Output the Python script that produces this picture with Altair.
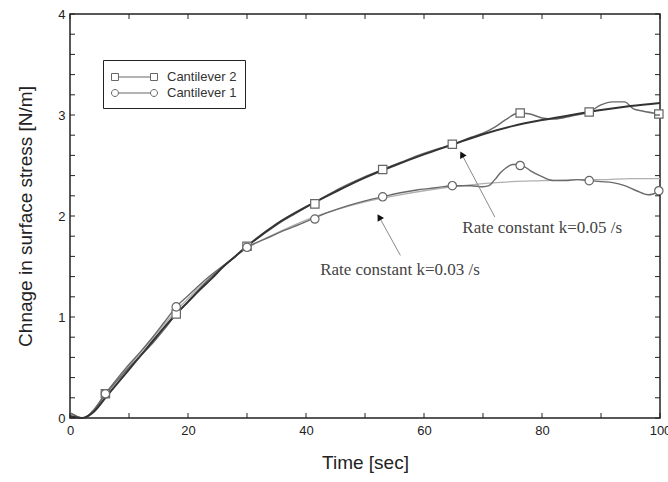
import altair as alt
import pandas as pd

# ---------------- data ----------------
series_names = ["Cantilever 2", "Cantilever 1"]

# measured curve, Cantilever 2 (squares)
t_c2 = [0, 1, 2, 3, 4, 6, 8, 10, 12, 14, 16, 18, 20, 22, 24, 26, 28, 30, 33, 36, 39, 41, 44, 47, 50,
        53, 56, 59, 62, 65, 68, 70, 72, 74, 76, 78, 80, 82, 85, 88, 90, 92, 94, 95.5, 97, 100]
v_c2 = [0.05, 0.02, 0.0, 0.02, 0.07, 0.24, 0.37, 0.50, 0.62, 0.74, 0.88, 1.03, 1.15, 1.28, 1.40, 1.50,
        1.60, 1.70, 1.83, 1.95, 2.05, 2.12, 2.22, 2.31, 2.39, 2.46, 2.53, 2.60, 2.66, 2.71, 2.78, 2.82,
        2.88, 2.96, 3.02, 3.01, 2.97, 2.96, 2.99, 3.03, 3.10, 3.13, 3.13, 3.06, 3.04, 3.01]

# measured curve, Cantilever 1 (circles)
t_c1 = [0, 1, 2, 3, 4, 6, 8, 10, 12, 14, 16, 18, 20, 22, 24, 26, 28, 30, 33, 36, 39, 41, 44, 47, 50,
        53, 56, 59, 62, 65, 68, 70, 71, 72, 73, 74, 75, 76, 77, 78, 80, 82, 84, 86, 88, 90, 92, 94,
        96, 98, 100]
v_c1 = [0.05, 0.02, 0.0, 0.02, 0.08, 0.24, 0.39, 0.53, 0.66, 0.80, 0.95, 1.10, 1.21, 1.32, 1.42, 1.51,
        1.60, 1.69, 1.77, 1.85, 1.92, 1.97, 2.04, 2.10, 2.15, 2.19, 2.23, 2.26, 2.28, 2.30, 2.30, 2.29,
        2.30, 2.36, 2.43, 2.48, 2.51, 2.51, 2.49, 2.45, 2.39, 2.35, 2.35, 2.36, 2.35, 2.34, 2.33, 2.30,
        2.25, 2.21, 2.24]

# marker positions
t_mark = [6, 18, 30, 41.5, 53, 64.8, 76.3, 88, 99.8]
m_c2 = [0.24, 1.03, 1.70, 2.12, 2.46, 2.71, 3.02, 3.03, 3.01]
m_c1 = [0.24, 1.10, 1.69, 1.97, 2.19, 2.30, 2.50, 2.35, 2.25]

# fitted curves
t_fit = [0, 2, 4, 6, 8, 10, 12, 14, 16, 18, 20, 22, 24, 26, 28, 30, 35, 40, 45, 50, 55, 60, 65, 70,
         75, 80, 85, 90, 95, 100]
fit_k05 = [0.02, 0.0, 0.06, 0.20, 0.34, 0.48, 0.62, 0.76, 0.90, 1.03, 1.15, 1.27, 1.38, 1.50, 1.60,
           1.70, 1.92, 2.09, 2.24, 2.38, 2.50, 2.61, 2.71, 2.81, 2.89, 2.95, 3.00, 3.05, 3.09, 3.12]
fit_k03 = [0.02, 0.0, 0.07, 0.22, 0.37, 0.51, 0.65, 0.79, 0.93, 1.06, 1.18, 1.30, 1.40, 1.50, 1.60,
           1.68, 1.83, 1.96, 2.06, 2.14, 2.20, 2.25, 2.29, 2.32, 2.34, 2.35, 2.36, 2.36, 2.37, 2.37]

# annotations
ann_text = ["Rate constant k=0.05 /s", "Rate constant k=0.03 /s"]
ann_tx = [66.5, 42.4]
ann_ty = [1.88, 1.47]
arrow_head_t = [66.5, 52.5]
arrow_head_v = [2.60, 1.98]
arrow_tail_t = [72.0, 56.0]
arrow_tail_v = [1.99, 1.61]

# axis ticks
x_label_values = [0, 20, 40, 60, 80, 100]
y_label_values = [0, 1, 2, 3, 4]
x_tick_values = [0, 10, 20, 30, 40, 50, 60, 70, 80, 90, 100]
y_tick_values = [0, 0.2, 0.4, 0.6, 0.8, 1.0, 1.2, 1.4, 1.6, 1.8, 2.0, 2.2, 2.4, 2.6, 2.8, 3.0,
                 3.2, 3.4, 3.6, 3.8, 4.0]

# ---------------- tables ----------------
df_c2 = pd.DataFrame({"t": t_c2, "v": v_c2})
df_c1 = pd.DataFrame({"t": t_c1, "v": v_c1})
df_m2 = pd.DataFrame({"t": t_mark, "v": m_c2})
df_m1 = pd.DataFrame({"t": t_mark, "v": m_c1})
df_f05 = pd.DataFrame({"t": t_fit, "v": fit_k05})
df_f03 = pd.DataFrame({"t": t_fit, "v": fit_k03})
df_ann = pd.DataFrame({"t": ann_tx, "v": ann_ty, "label": ann_text})
df_arr = pd.DataFrame({"t": arrow_head_t, "v": arrow_head_v, "t2": arrow_tail_t, "v2": arrow_tail_v})
df_xt = pd.DataFrame({"t": x_tick_values})
df_yt = pd.DataFrame({"v": y_tick_values})
df_leg = pd.DataFrame({"series": series_names})

W, H = 590, 404
FONT = "Liberation Sans"

xscale = alt.Scale(domain=[0, 100], nice=False, zero=False)
yscale = alt.Scale(domain=[0, 4], nice=False, zero=False)
xaxis = alt.Axis(values=x_label_values, tickSize=0, domain=False, grid=False, labelPadding=6,
                 labelFlush=False, labelFontSize=13, labelFont=FONT, labelColor="#222",
                 titleFont=FONT, titleFontSize=19, titleFontWeight="normal", titleColor="#222",
                 titlePadding=16)
yaxis = alt.Axis(values=y_label_values, tickSize=0, domain=False, grid=False, labelPadding=5,
                 labelFlush=False, labelFontSize=13, labelFont=FONT, labelColor="#222",
                 titleFont=FONT, titleFontSize=19, titleFontWeight="normal", titleColor="#222",
                 titlePadding=22)


def X(f="t"):
    return alt.X(f"{f}:Q", scale=xscale, axis=xaxis, title="Time [sec]")


def Y(f="v"):
    return alt.Y(f"{f}:Q", scale=yscale, axis=yaxis, title="Chnage in surface stress [N/m]")


fit03 = alt.Chart(df_f03).mark_line(color="#b0b0b0", strokeWidth=1.3, interpolate="monotone").encode(x=X(), y=Y())
line_c1 = alt.Chart(df_c1).mark_line(color="#6a6a6a", strokeWidth=1.4, interpolate="monotone").encode(x=X(), y=Y())
line_c2 = alt.Chart(df_c2).mark_line(color="#6a6a6a", strokeWidth=1.4, interpolate="monotone").encode(x=X(), y=Y())
fit05 = alt.Chart(df_f05).mark_line(color="#333333", strokeWidth=2.0, interpolate="monotone").encode(x=X(), y=Y())

mk2 = alt.Chart(df_m2).mark_point(shape="square", size=70, filled=True, fill="white", stroke="#666",
                                  strokeWidth=1.2, opacity=1).encode(x=X(), y=Y())
mk1 = alt.Chart(df_m1).mark_point(shape="circle", size=70, filled=True, fill="white", stroke="#666",
                                  strokeWidth=1.2, opacity=1).encode(x=X(), y=Y())

arrows = alt.Chart(df_arr).mark_rule(color="#8a8a8a", strokeWidth=1).encode(
    x=X(), y=Y(), x2="t2:Q", y2="v2:Q")
head05 = alt.Chart(df_arr.iloc[[0]]).mark_point(shape="triangle", size=55, filled=True, color="#111",
                                                opacity=1, angle=332).encode(x=X(), y=Y())
head03 = alt.Chart(df_arr.iloc[[1]]).mark_point(shape="triangle", size=55, filled=True, color="#111",
                                                opacity=1, angle=329).encode(x=X(), y=Y())
texts = alt.Chart(df_ann).mark_text(align="left", baseline="middle", font="Liberation Serif",
                                    fontSize=17, color="#444").encode(x=X(), y=Y(), text="label:N")

TL = 5
tick_b = alt.Chart(df_xt).mark_rule(color="#222", strokeWidth=1).encode(x=X(), y=alt.value(H), y2=alt.value(H - TL))
tick_t = alt.Chart(df_xt).mark_rule(color="#222", strokeWidth=1).encode(x=X(), y=alt.value(0), y2=alt.value(TL))
tick_l = alt.Chart(df_yt).mark_rule(color="#222", strokeWidth=1).encode(y=Y(), x=alt.value(0), x2=alt.value(TL))
tick_r = alt.Chart(df_yt).mark_rule(color="#222", strokeWidth=1).encode(y=Y(), x=alt.value(W), x2=alt.value(W - TL))

# legend symbols: marker - line - marker (1 unit = 8.5 px; symbol box is 17 px)
path_sq = ("M-1,-0.41 L-0.18,-0.41 L-0.18,0.41 L-1,0.41 Z M-0.18,0 L3.59,0 "
           "M3.59,-0.41 L4.41,-0.41 L4.41,0.41 L3.59,0.41 Z")
path_ci = ("M-0.18,0 A0.41,0.41 0 1,1 -1,0 A0.41,0.41 0 1,1 -0.18,0 Z M-0.18,0 L3.59,0 "
           "M4.41,0 A0.41,0.41 0 1,1 3.59,0 A0.41,0.41 0 1,1 4.41,0 Z")

legend_layer = alt.Chart(df_leg).mark_point(filled=False, color="#666", opacity=0, size=289,
                                            strokeWidth=1).encode(
    shape=alt.Shape("series:N", title=None,
                    scale=alt.Scale(domain=series_names, range=[path_sq, path_ci]),
                    legend=alt.Legend(orient="none", legendX=33, legendY=46, padding=8,
                                      strokeColor="#222", fillColor="white", symbolSize=289,
                                      symbolStrokeWidth=1, symbolStrokeColor="#666",
                                      symbolFillColor="transparent", symbolOpacity=1,
                                      labelFont=FONT, labelFontSize=13, labelColor="#333",
                                      labelOffset=38, rowPadding=0))
)

chart = alt.layer(
    fit03, line_c1, line_c2, fit05, mk2, mk1, arrows, head05, head03, texts,
    tick_b, tick_t, tick_l, tick_r, legend_layer
).properties(
    width=W, height=H,
    autosize=alt.AutoSizeParams(type="none"),
    padding={"left": 70, "top": 14, "right": 8, "bottom": 64},
    background="white",
).configure_view(stroke="#222", strokeWidth=1.5)

chart.save("out.html", embed_options={"renderer": "svg", "actions": False})
